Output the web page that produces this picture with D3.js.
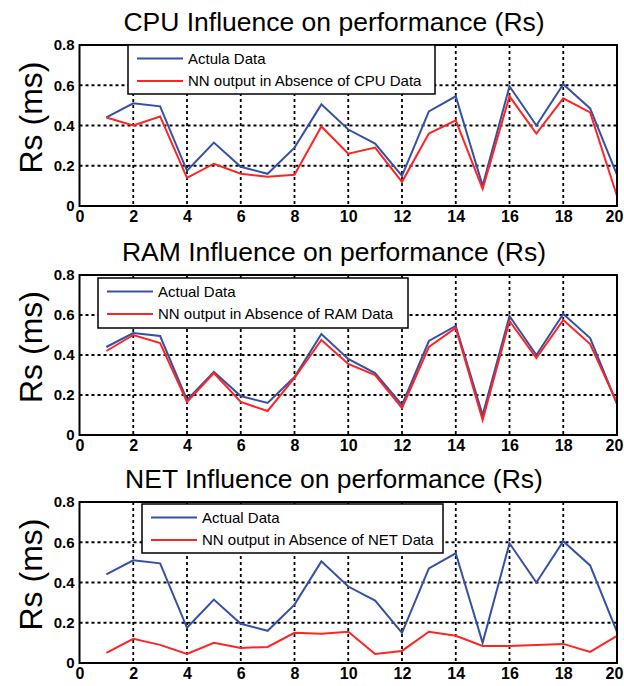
<!DOCTYPE html>
<html>
<head>
<meta charset="utf-8">
<script src="https://cdn.jsdelivr.net/npm/d3@7"></script>
<style>
  html, body { margin: 0; padding: 0; background: #fff; }
  svg { display: block; }
</style>
</head>
<body>
<svg id="chart" width="624" height="686"></svg>
<script>
// ---- Data ----
const xValues = d3.range(1, 21);
const actualData = [0.44, 0.51, 0.495, 0.175, 0.315, 0.195, 0.16, 0.29, 0.505, 0.38,
                    0.31, 0.15, 0.47, 0.545, 0.10, 0.595, 0.40, 0.605, 0.485, 0.155];
const cpuNN = [0.44, 0.40, 0.445, 0.14, 0.21, 0.16, 0.145, 0.155, 0.395, 0.26,
               0.29, 0.12, 0.36, 0.425, 0.085, 0.545, 0.36, 0.535, 0.465, 0.05];
const ramNN = [0.42, 0.50, 0.46, 0.165, 0.31, 0.165, 0.12, 0.285, 0.475, 0.355,
               0.30, 0.135, 0.44, 0.535, 0.075, 0.57, 0.385, 0.575, 0.455, 0.16];
const netNN = [0.05, 0.12, 0.09, 0.045, 0.10, 0.075, 0.08, 0.15, 0.145, 0.155,
               0.045, 0.06, 0.155, 0.135, 0.085, 0.085, 0.09, 0.095, 0.055, 0.135];
const xTicks = [0, 2, 4, 6, 8, 10, 12, 14, 16, 18, 20];
const yTicks = [0, 0.2, 0.4, 0.6, 0.8];
const titles = ["CPU Influence on performance (Rs)", "RAM Influence on performance (Rs)", "NET Influence on performance (Rs)"];
const actualLabels = ["Actula Data", "Actual Data", "Actual Data"];
const nnLabels = ["NN output in Absence of CPU Data", "NN output in Absence of RAM Data", "NN output in Absence of NET Data"];
const nnSeries = [cpuNN, ramNN, netNN];

// ---- Layout ----
const panels = [
  { top: 45, bottom: 206, legend: { x: 128, y: 45, w: 307, h: 49 } },
  { top: 275, bottom: 435, legend: { x: 98, y: 278, w: 310, h: 50 } },
  { top: 502, bottom: 663, legend: { x: 142, y: 504, w: 301, h: 49 } }
];
const left = 79.5, right = 617;
const blue = "#3550a5", red = "#ff2424";
const font = "Liberation Sans, Arial, sans-serif";

const svg = d3.select("#chart");

panels.forEach((p, i) => {
  const x = d3.scaleLinear().domain([0, 20]).range([left, right]);
  const y = d3.scaleLinear().domain([0, 0.8]).range([p.bottom, p.top]);
  const g = svg.append("g");

  // grid
  g.append("g").selectAll("line")
    .data(xTicks.filter(t => t > 0 && t < 20)).join("line")
    .attr("x1", d => x(d)).attr("x2", d => x(d))
    .attr("y1", p.top).attr("y2", p.bottom)
    .attr("stroke", "#000").attr("stroke-width", 1.8).attr("stroke-dasharray", "3,3");
  g.append("g").selectAll("line")
    .data(yTicks.filter(t => t > 0 && t < 0.8)).join("line")
    .attr("x1", left).attr("x2", right)
    .attr("y1", d => y(d)).attr("y2", d => y(d))
    .attr("stroke", "#000").attr("stroke-width", 1.8).attr("stroke-dasharray", "3,3");

  // axes
  const xAxis = g.append("g").attr("transform", `translate(0,${p.bottom})`)
    .call(d3.axisBottom(x).tickValues(xTicks).tickSize(0).tickPadding(5).tickFormat(d3.format("d")));
  xAxis.select(".domain").remove();
  xAxis.selectAll("text").attr("font-family", font)
    .attr("font-size", 16).attr("font-weight", "bold").attr("fill", "#000")
    .attr("dx", d => d === 20 ? -3 : 0);

  const yAxis = g.append("g").attr("transform", `translate(${left},0)`)
    .call(d3.axisLeft(y).tickValues(yTicks).tickSize(0).tickPadding(5)
      .tickFormat(d => d === 0 ? "0" : d3.format(".1f")(d)));
  yAxis.select(".domain").remove();
  yAxis.selectAll("text").attr("font-family", font)
    .attr("font-size", 15).attr("font-weight", "bold").attr("fill", "#000");

  // lines
  const line = d3.line().x((d, k) => x(xValues[k])).y(d => y(d));
  g.append("path").datum(actualData).attr("d", line)
    .attr("fill", "none").attr("stroke", blue).attr("stroke-width", 2);
  g.append("path").datum(nnSeries[i]).attr("d", line)
    .attr("fill", "none").attr("stroke", red).attr("stroke-width", 2);

  // frame
  g.append("rect").attr("x", left).attr("y", p.top)
    .attr("width", right - left).attr("height", p.bottom - p.top)
    .attr("fill", "none").attr("stroke", "#000").attr("stroke-width", 2);

  // title
  g.append("text").attr("x", 334).attr("y", p.top - 14)
    .attr("text-anchor", "middle")
    .attr("font-family", font).attr("font-size", 26.5)
    .attr("fill", "#000").text(titles[i]);

  // y label
  g.append("text")
    .attr("transform", `translate(42,${(p.top + p.bottom) / 2 - 8}) rotate(-90)`)
    .attr("text-anchor", "middle")
    .attr("font-family", font).attr("font-size", 32)
    .attr("fill", "#000").text("Rs (ms)");

  // legend
  const L = p.legend;
  const lg = g.append("g");
  lg.append("rect").attr("x", L.x).attr("y", L.y).attr("width", L.w).attr("height", L.h)
    .attr("fill", "#fff").attr("stroke", "#000").attr("stroke-width", 1.5);
  const rows = [{ c: blue, t: actualLabels[i] }, { c: red, t: nnLabels[i] }];
  rows.forEach((r, k) => {
    const ry = L.y + 13.5 + k * 22.5;
    lg.append("line").attr("x1", L.x + 9).attr("x2", L.x + 55)
      .attr("y1", ry).attr("y2", ry).attr("stroke", r.c).attr("stroke-width", 2);
    lg.append("text").attr("x", L.x + 60).attr("y", ry).attr("dy", "0.35em")
      .attr("font-family", font).attr("font-size", 15)
      .attr("fill", "#000").text(r.t);
  });
});
</script>
</body>
</html>
